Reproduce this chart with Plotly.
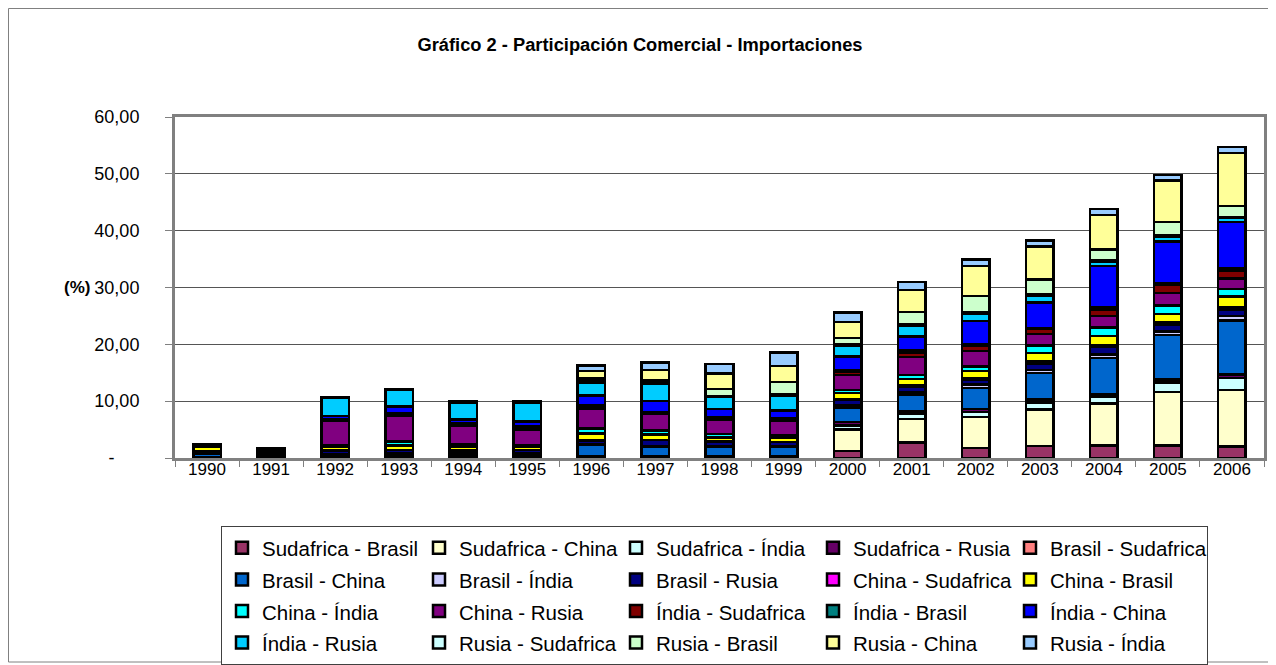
import plotly.graph_objects as go

years = ["1990", "1991", "1992", "1993", "1994", "1995", "1996", "1997", "1998",
         "1999", "2000", "2001", "2002", "2003", "2004", "2005", "2006"]

# participation (%) per trade pair, bottom to top of each stack
sudafrica_brasil = [0, 0, 0, 0, 0, 0, 0, 0, 0, 0, 1.2, 2.7, 1.8, 2.1, 2.2, 2.2, 2.0]
sudafrica_china = [0.05, 0.1, 0.1, 0.1, 0.1, 0.1, 0.1, 0.1, 0.1, 0.1, 3.8, 4.2, 5.4, 6.4, 7.4, 9.4, 10.0]
sudafrica_india = [0, 0, 0.05, 0.05, 0.05, 0.05, 0.05, 0.05, 0.05, 0.05, 0.7, 0.9, 0.9, 1.3, 1.2, 1.7, 2.1]
sudafrica_rusia = [0.05, 0.1, 0.2, 0.3, 0.3, 0.2, 0.1, 0.1, 0.1, 0.1, 0.6, 0.4, 0.5, 0.5, 0.4, 0.5, 0.6]
brasil_sudafrica = [0, 0, 0, 0, 0, 0, 0, 0, 0, 0, 0, 0, 0, 0, 0, 0.05, 0.05]
brasil_china = [0.7, 0.1, 0.3, 0.4, 0.3, 0.4, 2.05, 1.75, 1.65, 1.65, 2.5, 2.9, 3.7, 4.7, 6.4, 7.75, 9.45]
brasil_india = [0.05, 0, 0.05, 0.05, 0.05, 0.05, 0.1, 0.1, 0.2, 0.25, 0.4, 0.4, 0.6, 0.5, 0.6, 0.7, 0.8]
brasil_rusia = [0.3, 0.2, 0.6, 0.5, 0.5, 0.6, 0.7, 1.1, 0.8, 0.65, 1.1, 1.1, 0.9, 1.1, 1.4, 1.1, 1.0]
china_sudafrica = [0, 0, 0, 0, 0, 0, 0, 0, 0, 0, 0.1, 0.2, 0.2, 0.4, 0.3, 0.4, 0.5]
china_brasil = [0.8, 0.1, 0.6, 0.8, 0.7, 0.6, 1.2, 0.9, 0.7, 0.8, 1.0, 1.1, 1.3, 1.5, 1.6, 1.5, 1.9]
china_india = [0.1, 0.1, 0.3, 0.7, 0.5, 0.3, 0.9, 0.7, 0.6, 0.4, 0.6, 0.7, 0.8, 1.3, 1.5, 1.5, 1.3]
china_rusia = [0.1, 0.3, 4.4, 4.6, 3.2, 2.7, 3.4, 2.9, 2.6, 2.6, 2.6, 3.2, 2.7, 2.0, 2.0, 2.2, 1.9]
india_sudafrica = [0.05, 0.1, 0.2, 0.2, 0.3, 0.4, 0.4, 0.2, 0.2, 0.3, 0.6, 0.7, 0.9, 0.9, 1.1, 1.4, 1.4]
india_brasil = [0, 0.05, 0.1, 0.1, 0.1, 0.2, 0.2, 0.1, 0.1, 0.1, 0.3, 0.4, 0.3, 0.2, 0.4, 0.4, 0.4]
india_china = [0.1, 0.1, 0.5, 1.3, 0.7, 0.8, 1.8, 2.0, 1.5, 1.4, 2.4, 2.5, 4.1, 4.5, 7.3, 7.3, 8.1]
india_rusia = [0.05, 0.2, 3.2, 2.9, 3.0, 3.3, 2.3, 3.0, 2.2, 2.6, 1.9, 1.9, 1.3, 1.2, 0.7, 0.8, 0.7]
rusia_sudafrica = [0.05, 0.05, 0.03, 0.03, 0.05, 0.05, 0.25, 0.2, 0.1, 0.2, 0.2, 0.2, 0.3, 0.3, 0.3, 0.3, 0.2]
rusia_brasil = [0.05, 0.1, 0.03, 0.03, 0.05, 0.1, 0.4, 0.4, 1.2, 2.2, 1.1, 2.2, 2.8, 2.5, 1.9, 2.3, 1.9]
rusia_china = [0.05, 0.1, 0.02, 0.02, 0.05, 0.1, 1.35, 1.9, 2.8, 2.8, 2.8, 3.9, 5.3, 5.8, 6.1, 7.3, 9.4]
rusia_india = [0, 0.05, 0.02, 0.02, 0.05, 0.05, 1.0, 1.3, 1.6, 2.4, 1.7, 1.4, 1.1, 1.1, 1.0, 1.0, 1.0]

y_ticks = [0, 10, 20, 30, 40, 50, 60]
# Excel accounting format: the dash sits under the units digit
y_tick_labels = ["-" + "\u00a0" * 5, "10,00", "20,00", "30,00", "40,00", "50,00", "60,00"]

series = [
    ("Sudafrica - Brasil", sudafrica_brasil, "#993366"),
    ("Sudafrica - China", sudafrica_china, "#FFFFCC"),
    ("Sudafrica - Índia", sudafrica_india, "#CCFFFF"),
    ("Sudafrica - Rusia", sudafrica_rusia, "#660066"),
    ("Brasil - Sudafrica", brasil_sudafrica, "#FF8080"),
    ("Brasil - China", brasil_china, "#0066CC"),
    ("Brasil - Índia", brasil_india, "#CCCCFF"),
    ("Brasil - Rusia", brasil_rusia, "#000080"),
    ("China - Sudafrica", china_sudafrica, "#FF00FF"),
    ("China - Brasil", china_brasil, "#FFFF00"),
    ("China - Índia", china_india, "#00FFFF"),
    ("China - Rusia", china_rusia, "#800080"),
    ("Índia - Sudafrica", india_sudafrica, "#800000"),
    ("Índia - Brasil", india_brasil, "#008080"),
    ("Índia - China", india_china, "#0000FF"),
    ("Índia - Rusia", india_rusia, "#00CCFF"),
    ("Rusia - Sudafrica", rusia_sudafrica, "#CCFFFF"),
    ("Rusia - Brasil", rusia_brasil, "#CCFFCC"),
    ("Rusia - China", rusia_china, "#FFFF99"),
    ("Rusia - Índia", rusia_india, "#99CCFF"),
]

# the page body has an 8px margin, so lay out in page pixels and shift
OFF = 8
W, H = 1276 - OFF, 665 - OFF
L, R, T, B = 175 - OFF, 1264 - OFF, 117 - OFF, 458 - OFF
PW, PH = R - L, B - T


def px_x(page_x):
    return (page_x - OFF - L) / PW


def px_y(page_y):
    return (B - (page_y - OFF)) / PH


fig = go.Figure()

for name, vals, color in series:
    fig.add_trace(
        go.Bar(
            x=years,
            y=vals,
            name=f'<span style="font-size:20.5px">{name}</span>',
            marker=dict(color=color, line=dict(color="black", width=2.5))
        )
    )

fig.update_layout(
    width=W,
    height=H,
    margin=dict(l=L, r=W - R, t=T, b=H - B, autoexpand=False),
    barmode="stack",
    bargap=0.57,
    plot_bgcolor="white",
    paper_bgcolor="white",
    font=dict(family="Liberation Sans, Arial, sans-serif", size=17, color="black"),
    title=dict(
        text="<b>Gráfico 2 - Participación Comercial - Importaciones</b>",
        x=(640 - OFF) / W, xref="container", xanchor="center",
        y=1 - (45 - OFF) / H, yref="container", yanchor="middle",
        font=dict(size=18.3, color="black")
    ),
    legend=dict(
        orientation="h",
        x=px_x(221), xanchor="left",
        y=px_y(526), yanchor="top",
        bordercolor="#404040", borderwidth=1,
        bgcolor="white",
        font=dict(size=22),
        entrywidth=152,
        traceorder="normal"
    ),
    showlegend=True
)

fig.update_xaxes(
    type="category",
    showline=True, mirror=True, linecolor="#808080", linewidth=3,
    ticks="outside", tickson="boundaries", ticklen=6, tickcolor="#808080",
    showgrid=False,
    tickfont=dict(size=17)
)
try:
    fig.update_xaxes(ticklabelstandoff=-6)
except ValueError:
    pass

fig.update_yaxes(
    range=[0, 60],
    tickvals=y_ticks, ticktext=y_tick_labels,
    showline=True, mirror=True, linecolor="#808080", linewidth=3,
    ticks="outside", ticklen=7, tickcolor="#808080",
    ticklabelstandoff=22,
    showgrid=True, gridcolor="#555555", gridwidth=1,
    zeroline=False,
    tickfont=dict(size=18)
)

fig.add_annotation(
    text="<b>(%)</b>", x=px_x(92), xref="paper", y=30, yref="y",
    showarrow=False, xanchor="right", yanchor="middle", font=dict(size=17)
)

# outer chart border
fig.add_shape(
    type="rect", xref="paper", yref="paper",
    x0=px_x(OFF + 0.5), x1=px_x(1273), y0=px_y(662), y1=px_y(OFF + 0.5),
    line=dict(color="#808080", width=1), layer="below"
)

fig.write_html("out.html")
